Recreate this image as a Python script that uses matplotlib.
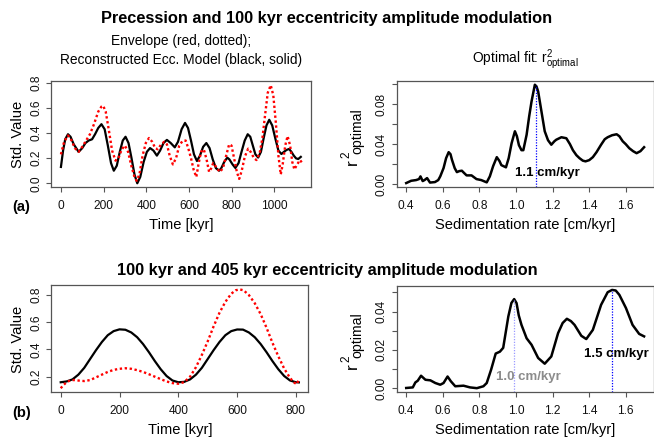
import matplotlib
matplotlib.use("Agg")
import matplotlib.pyplot as plt

plt.rcParams['font.family'] = ['Liberation Sans', 'DejaVu Sans']
plt.rcParams['mathtext.fontset'] = 'custom'
plt.rcParams['mathtext.rm'] = 'Liberation Sans'
plt.rcParams['mathtext.it'] = 'Liberation Sans:italic'
plt.rcParams['mathtext.bf'] = 'Liberation Sans:bold'

# ---------------- data ----------------
# (a) Precession envelope vs reconstructed eccentricity model
a_model_time = [0, 10, 20, 33, 45, 60, 83, 100, 115, 130, 146, 160, 175, 190, 205, 220, 235,
                248, 262, 276, 290, 303, 317, 331, 345, 358, 372, 388, 403, 418, 434, 450,
                465, 481, 497, 515, 534, 549, 566, 582, 596, 610, 624, 638, 652, 667, 682,
                697, 712, 727, 742, 752, 766, 780, 790, 805, 818, 833, 847, 862, 876, 888,
                900, 912, 925, 938, 951, 964, 977, 991, 1005, 1020, 1034, 1046, 1058, 1070,
                1081, 1092, 1103, 1113, 1125]
a_model_value = [0.13, 0.26, 0.35, 0.39, 0.37, 0.31, 0.25, 0.28, 0.32, 0.34, 0.35, 0.39, 0.44,
                 0.47, 0.43, 0.30, 0.16, 0.10, 0.14, 0.25, 0.34, 0.37, 0.32, 0.20, 0.07, 0.00,
                 0.05, 0.17, 0.25, 0.28, 0.26, 0.22, 0.26, 0.32, 0.345, 0.32, 0.286, 0.33,
                 0.43, 0.48, 0.44, 0.34, 0.23, 0.177, 0.22, 0.29, 0.32, 0.28, 0.19, 0.12,
                 0.10, 0.12, 0.17, 0.204, 0.19, 0.15, 0.122, 0.16, 0.25, 0.34, 0.39, 0.37,
                 0.30, 0.23, 0.205, 0.25, 0.36, 0.46, 0.505, 0.46, 0.36, 0.26, 0.233, 0.25,
                 0.265, 0.273, 0.25, 0.22, 0.198, 0.193, 0.21]
a_env_time = [0, 15, 33, 50, 65, 83, 100, 118, 136, 155, 175, 190, 198, 210, 225, 240, 256,
              270, 285, 300, 315, 330, 345, 355, 368, 383, 398, 413, 428, 442, 455, 470, 485,
              497, 510, 525, 540, 555, 570, 585, 597, 610, 622, 635, 645, 657, 670, 683, 695,
              705, 714, 728, 745, 760, 775, 789, 800, 812, 825, 836, 848, 862, 878, 892, 905,
              917, 932, 945, 958, 970, 984, 996, 1008, 1020, 1031, 1040, 1052, 1063, 1075,
              1085, 1095, 1108, 1121, 1130]
a_env_value = [0.23, 0.33, 0.38, 0.34, 0.28, 0.25, 0.29, 0.34, 0.39, 0.47, 0.57, 0.61, 0.617,
               0.57, 0.42, 0.26, 0.18, 0.20, 0.27, 0.30, 0.25, 0.14, 0.05, 0.02, 0.07, 0.22,
               0.32, 0.36, 0.33, 0.28, 0.27, 0.31, 0.33, 0.31, 0.22, 0.15, 0.20, 0.30, 0.336,
               0.34, 0.28, 0.20, 0.11, 0.05, 0.15, 0.25, 0.27, 0.19, 0.09, 0.12, 0.16, 0.13,
               0.09, 0.12, 0.22, 0.31, 0.30, 0.20, 0.09, 0.035, 0.10, 0.21, 0.275, 0.245,
               0.20, 0.185, 0.24, 0.36, 0.55, 0.72, 0.78, 0.70, 0.48, 0.22, 0.07, 0.15, 0.30,
               0.375, 0.30, 0.17, 0.11, 0.15, 0.185, 0.165]

a_rate = [0.40, 0.427, 0.454, 0.47, 0.478, 0.49, 0.50, 0.514, 0.53, 0.557, 0.575, 0.586, 0.604,
          0.618, 0.632, 0.642, 0.65, 0.665, 0.677, 0.69, 0.704, 0.717, 0.73, 0.757, 0.784,
          0.81, 0.84, 0.857, 0.875, 0.895, 0.91, 0.92, 0.945, 0.96, 0.976, 0.994, 1.005,
          1.016, 1.03, 1.04, 1.058, 1.072, 1.085, 1.103, 1.112, 1.121, 1.139, 1.157, 1.175,
          1.193, 1.21, 1.22, 1.248, 1.275, 1.295, 1.311, 1.33, 1.347, 1.365, 1.38, 1.40,
          1.42, 1.44, 1.465, 1.485, 1.501, 1.525, 1.55, 1.565, 1.583, 1.60, 1.619, 1.64,
          1.659, 1.68, 1.70]
a_r2 = [0.001, 0.0033, 0.004, 0.005, 0.0077, 0.003, 0.004, 0.006, 0.0015, 0.002, 0.004,
        0.0077, 0.016, 0.026, 0.032, 0.030, 0.0244, 0.016, 0.012, 0.013, 0.0134, 0.011,
        0.0087, 0.0087, 0.005, 0.004, 0.0017, 0.0077, 0.018, 0.027, 0.023, 0.019, 0.0168,
        0.026, 0.041, 0.053, 0.048, 0.039, 0.034, 0.034, 0.0495, 0.068, 0.083, 0.0997,
        0.098, 0.093, 0.073, 0.053, 0.044, 0.0395, 0.043, 0.0445, 0.047, 0.046, 0.040,
        0.034, 0.029, 0.026, 0.0235, 0.0228, 0.024, 0.027, 0.032, 0.0395, 0.045, 0.047,
        0.049, 0.050, 0.048, 0.043, 0.040, 0.036, 0.033, 0.031, 0.033, 0.037]
a_best_rate = [1.107]
a_best_r2 = [0.0997]
a_best_label = ["1.1 cm/kyr"]

# (b) 100 kyr vs 405 kyr eccentricity
b_time = [0, 20, 40, 60, 80, 100, 120, 140, 160, 180, 200, 220, 240, 260, 280, 300, 320, 340,
          360, 380, 400, 420, 440, 460, 480, 500, 520, 540, 560, 580, 600, 620, 640, 660, 680,
          700, 720, 740, 760, 780, 800, 810]
b_model_value = [0.159, 0.165, 0.18, 0.215, 0.265, 0.33, 0.395, 0.455, 0.505, 0.535, 0.548,
                 0.545, 0.525, 0.49, 0.44, 0.38, 0.315, 0.255, 0.205, 0.172, 0.159, 0.162,
                 0.18, 0.215, 0.265, 0.33, 0.395, 0.455, 0.505, 0.535, 0.547, 0.546, 0.525,
                 0.49, 0.44, 0.38, 0.315, 0.255, 0.205, 0.172, 0.159, 0.158]
b_env_time = [0, 10, 20, 35, 50, 65, 80, 100, 120, 140, 160, 180, 200, 220, 240, 260, 280, 300,
              320, 340, 360, 380, 400, 420, 440, 460, 480, 500, 520, 540, 560, 580, 595, 608,
              622, 640, 660, 680, 700, 720, 740, 760, 780, 795, 803, 810]
b_env_value = [0.115, 0.14, 0.16, 0.175, 0.175, 0.17, 0.168, 0.175, 0.195, 0.215, 0.235, 0.25,
               0.258, 0.262, 0.258, 0.248, 0.235, 0.218, 0.20, 0.182, 0.165, 0.153, 0.148,
               0.16, 0.20, 0.27, 0.36, 0.46, 0.57, 0.67, 0.75, 0.81, 0.835, 0.842, 0.835,
               0.80, 0.74, 0.66, 0.56, 0.45, 0.35, 0.26, 0.19, 0.155, 0.145, 0.18]

b_rate = [0.40, 0.436, 0.45, 0.463, 0.481, 0.505, 0.532, 0.559, 0.586, 0.604, 0.626, 0.644,
          0.668, 0.713, 0.749, 0.786, 0.822, 0.84, 0.864, 0.889, 0.912, 0.93, 0.958, 0.975,
          0.99, 1.003, 1.015, 1.03, 1.058, 1.085, 1.121, 1.157, 1.193, 1.23, 1.255, 1.278,
          1.30, 1.32, 1.357, 1.384, 1.42, 1.465, 1.501, 1.525, 1.545, 1.565, 1.601, 1.637,
          1.673, 1.70]
b_r2 = [0.0, 0.0003, 0.0029, 0.0038, 0.0064, 0.0043, 0.004, 0.0026, 0.0017, 0.0026, 0.006,
        0.0035, 0.0009, 0.0012, 0.0003, -0.0001, 0.0009, 0.0026, 0.0096, 0.018, 0.019, 0.021,
        0.0374, 0.0445, 0.0465, 0.0444, 0.038, 0.033, 0.026, 0.0226, 0.0157, 0.0127, 0.0165,
        0.0287, 0.034, 0.0362, 0.035, 0.033, 0.0273, 0.0256, 0.0304, 0.0435, 0.0501, 0.0513,
        0.051, 0.0487, 0.0418, 0.033, 0.0283, 0.027]
b_best_rate = [0.99, 1.525]
b_best_r2 = [0.0465, 0.0513]
b_best_label = ["1.0 cm/kyr", "1.5 cm/kyr"]

time_ticks_a = [0, 200, 400, 600, 800, 1000]
time_ticks_b = [0, 200, 400, 600, 800]
value_ticks_a = [0.0, 0.2, 0.4, 0.6, 0.8]
value_labels_a = ["0.0", "0.2", "0.4", "0.6", "0.8"]
value_ticks_b = [0.2, 0.4, 0.6, 0.8]
value_labels_b = ["0.2", "0.4", "0.6", "0.8"]
rate_ticks = [0.4, 0.6, 0.8, 1.0, 1.2, 1.4, 1.6]
rate_labels = ["0.4", "0.6", "0.8", "1.0", "1.2", "1.4", "1.6"]
r2_ticks_a = [0.0, 0.02, 0.04, 0.06, 0.08, 0.10]
r2_labels_a = ["0.00", "", "0.04", "", "0.08", ""]
r2_ticks_b = [0.0, 0.01, 0.02, 0.03, 0.04, 0.05]
r2_labels_b = ["0.00", "", "0.02", "", "0.04", ""]

# ---------------- layout ----------------
W, H = 654, 437
fig = plt.figure(figsize=(W / 100, H / 100), dpi=100)
FRAME = '#555555'
TICK_FS = 8.6
LAB_FS = 10.6


def add_ax(l, r, t, b):
    return fig.add_axes([l / W, 1 - b / H, (r - l) / W, (b - t) / H])


def ftext(x, y, s, **kw):
    return fig.text(x / W, 1 - y / H, s, **kw)


def rlim(vals):
    lo, hi = min(vals), max(vals)
    d = (hi - lo) * 0.04
    return lo - d, hi + d


def style(ax, xt, xl, yt, yl):
    for sp in ax.spines.values():
        sp.set_color(FRAME)
        sp.set_linewidth(0.9)
    ax.set_xticks(xt)
    ax.set_xticklabels(xl, fontsize=TICK_FS)
    ax.set_yticks(yt)
    ax.set_yticklabels(yl, fontsize=TICK_FS, rotation=90, va='center')
    ax.tick_params(axis='both', direction='out', length=3.6, width=0.8, color=FRAME,
                   labelcolor='#111111')
    ax.tick_params(axis='x', pad=5.5)
    ax.tick_params(axis='y', pad=2.8)


def r2_label(cy):
    # r^2 with "optimal" subscript, rotated like an R y-axis label
    ftext(352.5, cy + 25, "r", fontsize=12.5, rotation=90, ha='center', va='center')
    ftext(346.5, cy + 18, "2", fontsize=8.5, rotation=90, ha='center', va='center')
    ftext(357.5, cy - 6, "optimal", fontsize=10.2, rotation=90, ha='center', va='center')


# panel (a) left
ax1 = add_ax(51.3, 311.5, 81.3, 187.2)
ax1.plot(a_model_time, a_model_value, color='black', lw=1.6, solid_joinstyle='round')
ax1.plot(a_env_time, a_env_value, color='red', lw=1.7, linestyle=(0, (1.0, 1.1)))
ax1.set_xlim(rlim(a_model_time + a_env_time))
ax1.set_ylim(rlim(a_model_value + a_env_value))
style(ax1, time_ticks_a, [str(t) for t in time_ticks_a], value_ticks_a, value_labels_a)

# panel (a) right
ax2 = add_ax(396.7, 653.6, 80.8, 187.0)
ax2.plot(a_rate, a_r2, color='black', lw=1.8, solid_joinstyle='round')
ax2.set_xlim(rlim(a_rate))
ax2.set_ylim(rlim(a_r2))
ax2.vlines(a_best_rate, ax2.get_ylim()[0], a_best_r2, color='blue', lw=0.9,
           linestyles=(0, (1, 1.2)))
ax2.text(a_best_rate[0] + 0.066, 0.0113, a_best_label[0], fontsize=9.5,
         fontweight='bold', ha='center', va='center', color='black')
style(ax2, rate_ticks, rate_labels, r2_ticks_a, r2_labels_a)

# panel (b) left
ax3 = add_ax(51.2, 308.4, 285.4, 392.2)
ax3.plot(b_time, b_model_value, color='black', lw=1.6)
ax3.plot(b_env_time, b_env_value, color='red', lw=1.7, linestyle=(0, (1.0, 1.1)))
ax3.set_xlim(rlim(b_time + b_env_time))
ax3.set_ylim(rlim(b_model_value + b_env_value))
style(ax3, time_ticks_b, [str(t) for t in time_ticks_b], value_ticks_b, value_labels_b)

# panel (b) right
ax4 = add_ax(396.7, 653.6, 286.0, 392.1)
ax4.plot(b_rate, b_r2, color='black', lw=1.8, solid_joinstyle='round')
ax4.set_xlim(rlim(b_rate))
ax4.set_ylim(rlim(b_r2))
ax4.vlines(b_best_rate[0], ax4.get_ylim()[0], b_best_r2[0], color='#9a9aff', lw=0.9,
           linestyles=(0, (1, 1.2)))
ax4.vlines(b_best_rate[1], ax4.get_ylim()[0], b_best_r2[1], color='blue', lw=0.9,
           linestyles=(0, (1, 1.2)))
ax4.text(b_best_rate[0] + 0.08, 0.0055, b_best_label[0], fontsize=9.5,
         fontweight='bold', ha='center', va='center', color='#8c8c8c')
ax4.text(b_best_rate[1] + 0.025, 0.0179, b_best_label[1], fontsize=9.5,
         fontweight='bold', ha='center', va='center', color='black')
style(ax4, rate_ticks, rate_labels, r2_ticks_b, r2_labels_b)

# ---------------- texts ----------------
ftext(327, 18.5, "Precession and 100 kyr eccentricity amplitude modulation",
      fontsize=11.8, fontweight='bold', ha='center', va='center')
ftext(181, 41, "Envelope (red, dotted);", fontsize=9.9, ha='center', va='center')
ftext(181, 60, "Reconstructed Ecc. Model (black, solid)", fontsize=9.9,
      ha='center', va='center')
ftext(525, 60, r"Optimal fit: $\mathregular{r^{2}_{optimal}}$", fontsize=9.9,
      ha='center', va='center')
ftext(327, 270, "100 kyr and 405 kyr eccentricity amplitude modulation",
      fontsize=11.8, fontweight='bold', ha='center', va='center')

ftext(18, 134, "Std. Value", fontsize=LAB_FS, rotation=90, ha='center', va='center')
ftext(18, 339, "Std. Value", fontsize=LAB_FS, rotation=90, ha='center', va='center')
r2_label(137)
r2_label(341)

ftext(181, 225, "Time [kyr]", fontsize=LAB_FS, ha='center', va='center')
ftext(180, 430, "Time [kyr]", fontsize=LAB_FS, ha='center', va='center')
ftext(525, 225, "Sedimentation rate [cm/kyr]", fontsize=LAB_FS, ha='center', va='center')
ftext(525, 430, "Sedimentation rate [cm/kyr]", fontsize=LAB_FS, ha='center', va='center')

ftext(21, 207, "(a)", fontsize=LAB_FS, fontweight='bold', ha='center', va='center')
ftext(22, 413, "(b)", fontsize=LAB_FS, fontweight='bold', ha='center', va='center')

fig.savefig("out.png", dpi=100)
